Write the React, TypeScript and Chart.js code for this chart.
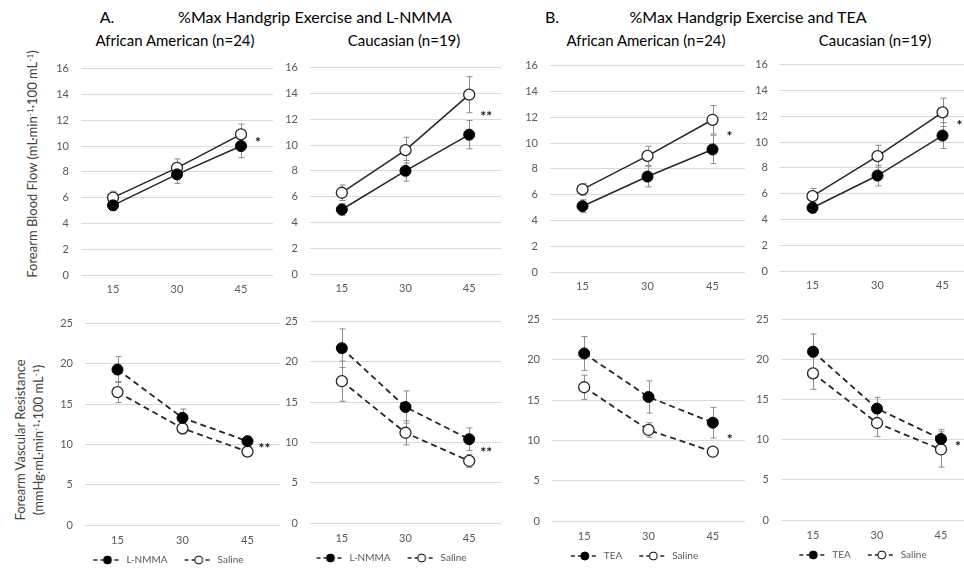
import React, { useEffect, useRef } from "react";
import { Chart, registerables } from "chart.js";
Chart.register(...registerables);

// ---------- data ----------
const doses = ["15", "30", "45"];

// A. L-NMMA — Forearm Blood Flow
const fbfAaLnmma = [5.4, 7.8, 10.0];
const fbfAaLnmmaErr = [0.4, 0.7, 0.9];
const fbfAaSalineA = [6.0, 8.3, 10.9];
const fbfAaSalineAErr = [0.5, 0.7, 0.8];
const fbfCaLnmma = [5.0, 8.0, 10.8];
const fbfCaLnmmaErr = [0.45, 0.8, 1.1];
const fbfCaSalineA = [6.3, 9.6, 13.9];
const fbfCaSalineAErr = [0.6, 1.0, 1.4];

// B. TEA — Forearm Blood Flow
const fbfAaTea = [5.1, 7.4, 9.5];
const fbfAaTeaErr = [0.5, 0.8, 1.1];
const fbfAaSalineB = [6.4, 9.0, 11.8];
const fbfAaSalineBErr = [0.45, 0.75, 1.1];
const fbfCaTea = [4.9, 7.4, 10.5];
const fbfCaTeaErr = [0.4, 0.8, 1.0];
const fbfCaSalineB = [5.8, 8.9, 12.3];
const fbfCaSalineBErr = [0.6, 0.85, 1.1];

// A. L-NMMA — Forearm Vascular Resistance
const fvrAaLnmma = [19.3, 13.3, 10.4];
const fvrAaLnmmaErr = [1.6, 1.1, 0.6];
const fvrAaSalineA = [16.5, 12.0, 9.1];
const fvrAaSalineAErr = [1.3, 0.7, 0.5];
const fvrCaLnmma = [21.7, 14.4, 10.4];
const fvrCaLnmmaErr = [2.4, 2.0, 1.4];
const fvrCaSalineA = [17.6, 11.2, 7.7];
const fvrCaSalineAErr = [2.5, 1.5, 0.8];

// B. TEA — Forearm Vascular Resistance
const fvrAaTea = [20.8, 15.4, 12.2];
const fvrAaTeaErr = [2.1, 2.0, 1.9];
const fvrAaSalineB = [16.6, 11.3, 8.6];
const fvrAaSalineBErr = [1.5, 0.9, 0.3];
const fvrCaTea = [21.0, 13.9, 10.1];
const fvrCaTeaErr = [2.2, 1.4, 1.2];
const fvrCaSalineB = [18.3, 12.1, 8.8];
const fvrCaSalineBErr = [2.0, 1.7, 2.2];

const fbfAxis = { max: 16, step: 2 };
const fvrAxis = { max: 25, step: 5 };

// ---------- styling / layout ----------
const FONT = "Lato, 'Open Sans', sans-serif";
const Y_W = 40;
const PAD_T = 12;
const LINE = "#262626";

type PanelDef = {
  area: [number, number, number, number];
  drug: string;
  drugData: number[];
  drugErr: number[];
  saline: number[];
  salineErr: number[];
  axis: { max: number; step: number };
  dashed: boolean;
  sig: string;
};

const panels: PanelDef[] = [
  { area: [81, 62, 273, 275], drug: "L-NMMA", drugData: fbfAaLnmma, drugErr: fbfAaLnmmaErr, saline: fbfAaSalineA, salineErr: fbfAaSalineAErr, axis: fbfAxis, dashed: false, sig: "*" },
  { area: [310, 61, 501, 274], drug: "L-NMMA", drugData: fbfCaLnmma, drugErr: fbfCaLnmmaErr, saline: fbfCaSalineA, salineErr: fbfCaSalineAErr, axis: fbfAxis, dashed: false, sig: "**" },
  { area: [550, 59, 745, 272], drug: "TEA", drugData: fbfAaTea, drugErr: fbfAaTeaErr, saline: fbfAaSalineB, salineErr: fbfAaSalineBErr, axis: fbfAxis, dashed: false, sig: "*" },
  { area: [780, 58, 975, 271], drug: "TEA", drugData: fbfCaTea, drugErr: fbfCaTeaErr, saline: fbfCaSalineB, salineErr: fbfCaSalineBErr, axis: fbfAxis, dashed: false, sig: "*" },
  { area: [85, 317, 280, 525], drug: "L-NMMA", drugData: fvrAaLnmma, drugErr: fvrAaLnmmaErr, saline: fvrAaSalineA, salineErr: fvrAaSalineAErr, axis: fvrAxis, dashed: true, sig: "**" },
  { area: [310, 315, 501, 523], drug: "L-NMMA", drugData: fvrCaLnmma, drugErr: fvrCaLnmmaErr, saline: fvrCaSalineA, salineErr: fvrCaSalineAErr, axis: fvrAxis, dashed: true, sig: "**" },
  { area: [552, 313, 745, 521], drug: "TEA", drugData: fvrAaTea, drugErr: fvrAaTeaErr, saline: fvrAaSalineB, salineErr: fvrAaSalineBErr, axis: fvrAxis, dashed: true, sig: "*" },
  { area: [781, 313, 973, 520], drug: "TEA", drugData: fvrCaTea, drugErr: fvrCaTeaErr, saline: fvrCaSalineB, salineErr: fvrCaSalineBErr, axis: fvrAxis, dashed: true, sig: "*" },
];

// ---------- plugins ----------
const errorBarPlugin = {
  id: "errorBars",
  beforeDatasetsDraw(chart: any, _a: any, opts: any) {
    const errs: number[][] = opts && opts.errors;
    if (!errs) return;
    const ctx = chart.ctx;
    const ys = chart.scales.y;
    ctx.save();
    ctx.strokeStyle = opts.color || "#8c8c8c";
    ctx.lineWidth = 1;
    chart.data.datasets.forEach((ds: any, i: number) => {
      const meta = chart.getDatasetMeta(i);
      (ds.data as number[]).forEach((v, j) => {
        const e = errs[i][j];
        const x = Math.round(meta.data[j].x) + 0.5;
        const y1 = ys.getPixelForValue(v + e);
        const y2 = ys.getPixelForValue(v - e);
        ctx.beginPath();
        ctx.moveTo(x, y1);
        ctx.lineTo(x, y2);
        ctx.moveTo(x - 3, y1);
        ctx.lineTo(x + 3, y1);
        ctx.moveTo(x - 3, y2);
        ctx.lineTo(x + 3, y2);
        ctx.stroke();
      });
    });
    ctx.restore();
  },
};

const sigPlugin = {
  id: "sigMark",
  afterDatasetsDraw(chart: any, _a: any, opts: any) {
    if (!opts || !opts.text) return;
    const m0 = chart.getDatasetMeta(0);
    const m1 = chart.getDatasetMeta(1);
    const n = m0.data.length - 1;
    const x = m0.data[n].x + 17;
    const y = (m0.data[n].y + m1.data[n].y) / 2;
    const ctx = chart.ctx;
    ctx.save();
    ctx.font = `bold 14px ${FONT}`;
    ctx.textAlign = "center";
    ctx.textBaseline = "middle";
    ctx.fillStyle = "#111";
    ctx.fillText(opts.text, x, y + 2);
    ctx.restore();
  },
};

function legendSymbol(filled: boolean): HTMLCanvasElement {
  const c = document.createElement("canvas");
  const lead = 12;
  c.width = 28 + lead;
  c.height = 10;
  const g = c.getContext("2d")!;
  g.strokeStyle = LINE;
  g.lineWidth = 1.5;
  g.setLineDash([4, 3]);
  g.beginPath();
  g.moveTo(lead, 5);
  g.lineTo(lead + 28, 5);
  g.stroke();
  g.setLineDash([]);
  g.beginPath();
  g.arc(lead + 14, 5, 4, 0, Math.PI * 2);
  g.fillStyle = filled ? "#000" : "#fff";
  g.fill();
  g.lineWidth = 1;
  g.strokeStyle = "#000";
  g.stroke();
  return c;
}

function Panel({ p }: { p: PanelDef }) {
  const ref = useRef<HTMLCanvasElement>(null);
  const [l, t, r, b] = p.area;
  const legend = p.dashed;
  const padR = legend ? 14 : 12;
  const xH = legend ? 25 : 25;
  const legendPad = 5;
  const legendH = legend ? 10 + legendPad + 10 : 0;
  const w = r - l + Y_W + padR;
  const h = b - t + PAD_T + xH + legendH;

  useEffect(() => {
    const dash = p.dashed ? [6, 4] : [];
    const chart = new Chart(ref.current!, {
      type: "line",
      data: {
        labels: doses,
        datasets: [
          {
            label: p.drug,
            data: p.drugData,
            borderColor: LINE,
            borderWidth: p.dashed ? 1.8 : 1.5,
            borderDash: dash,
            pointRadius: 5.5,
            pointBackgroundColor: "#000",
            pointBorderColor: "#000",
            pointBorderWidth: 1,
            fill: false,
            tension: 0,
          },
          {
            label: "Saline",
            data: p.saline,
            borderColor: LINE,
            borderWidth: p.dashed ? 1.8 : 1.5,
            borderDash: dash,
            pointRadius: 5.5,
            pointBackgroundColor: "#fff",
            pointBorderColor: "#262626",
            pointBorderWidth: 1.3,
            fill: false,
            tension: 0,
          },
        ],
      },
      options: {
        responsive: false,
        animation: false,
        devicePixelRatio: 1,
        layout: { padding: { top: PAD_T, right: padR, left: 0, bottom: 0 } },
        scales: {
          x: {
            type: "category",
            offset: true,
            grid: { display: false, drawTicks: false },
            border: { display: false },
            ticks: { color: "#595959", font: { family: FONT, size: 11 }, padding: legend ? 9 : 8, maxRotation: 0 },
            afterFit: (s: any) => {
              s.height = xH;
            },
          },
          y: {
            min: 0,
            max: p.axis.max,
            grid: { color: "#d9d9d9", lineWidth: 1, drawTicks: false },
            border: { display: false },
            ticks: { stepSize: p.axis.step, color: "#595959", font: { family: FONT, size: 11 }, padding: 12 },
            afterFit: (s: any) => {
              s.width = Y_W;
            },
          },
        },
        plugins: {
          legend: legend
            ? {
                display: true,
                position: "bottom",
                labels: {
                  usePointStyle: true,
                  pointStyleWidth: 40,
                  padding: legendPad,
                  color: "#595959",
                  font: { family: FONT, size: 10 },
                  generateLabels: () => [
                    { text: p.drug, pointStyle: legendSymbol(true), fillStyle: "#000", strokeStyle: "#000", lineWidth: 0, hidden: false, datasetIndex: 0, fontColor: "#595959" },
                    { text: "Saline", pointStyle: legendSymbol(false), fillStyle: "#fff", strokeStyle: "#000", lineWidth: 0, hidden: false, datasetIndex: 1, fontColor: "#595959" },
                  ],
                },
              }
            : { display: false },
          tooltip: { enabled: false },
          errorBars: { errors: [p.drugErr, p.salineErr], color: "#8c8c8c" },
          sigMark: { text: p.sig },
        } as any,
      },
      plugins: [errorBarPlugin, sigPlugin],
    } as any);
    return () => chart.destroy();
  }, []);

  return (
    <canvas
      ref={ref}
      width={w}
      height={h}
      style={{ position: "absolute", left: l - Y_W, top: t - PAD_T, width: w, height: h }}
    />
  );
}

function T({ x, y, size, color, children, rotate, bold }: any) {
  return (
    <div
      style={{
        position: "absolute",
        left: x,
        top: y,
        transform: `translate(-50%, -50%)${rotate ? " rotate(-90deg)" : ""}`,
        fontSize: size,
        color: color || "#000",
        whiteSpace: "nowrap",
        fontFamily: FONT,
        fontWeight: bold ? 700 : 400,
        lineHeight: 1.35,
        textAlign: "center",
      }}
    >
      {children}
    </div>
  );
}

const supStyle: React.CSSProperties = { fontSize: "0.65em", verticalAlign: "0.55em", lineHeight: 0 };

export default function App() {
  return (
    <div
      style={{
        position: "fixed",
        left: 0,
        top: 0,
        width: 964,
        height: 568,
        overflow: "hidden",
        background: "#fff",
      }}
    >
      <T x={107} y={17} size={16}>A.</T>
      <T x={315} y={17} size={16}>%Max Handgrip Exercise and L-NMMA</T>
      <T x={552} y={17} size={16}>B.</T>
      <T x={748} y={17} size={16}>%Max Handgrip Exercise and TEA</T>

      <T x={175} y={40} size={15}>African American (n=24)</T>
      <T x={404} y={40} size={15}>Caucasian (n=19)</T>
      <T x={646} y={40} size={15}>African American (n=24)</T>
      <T x={875} y={40} size={15}>Caucasian (n=19)</T>

      <T x={33} y={164} size={13} color="#404040" rotate>
        Forearm Blood Flow (mL·min<span style={supStyle}>-1</span>·100 mL<span style={supStyle}>-1</span>)
      </T>
      <T x={30} y={440} size={13} color="#404040" rotate>
        Forearm Vascular Resistance
        <br />
        (mmHg·mL·min<span style={supStyle}>-1</span>·100 mL<span style={supStyle}>-1</span>)
      </T>

      {panels.map((p, i) => (
        <Panel key={i} p={p} />
      ))}
    </div>
  );
}
